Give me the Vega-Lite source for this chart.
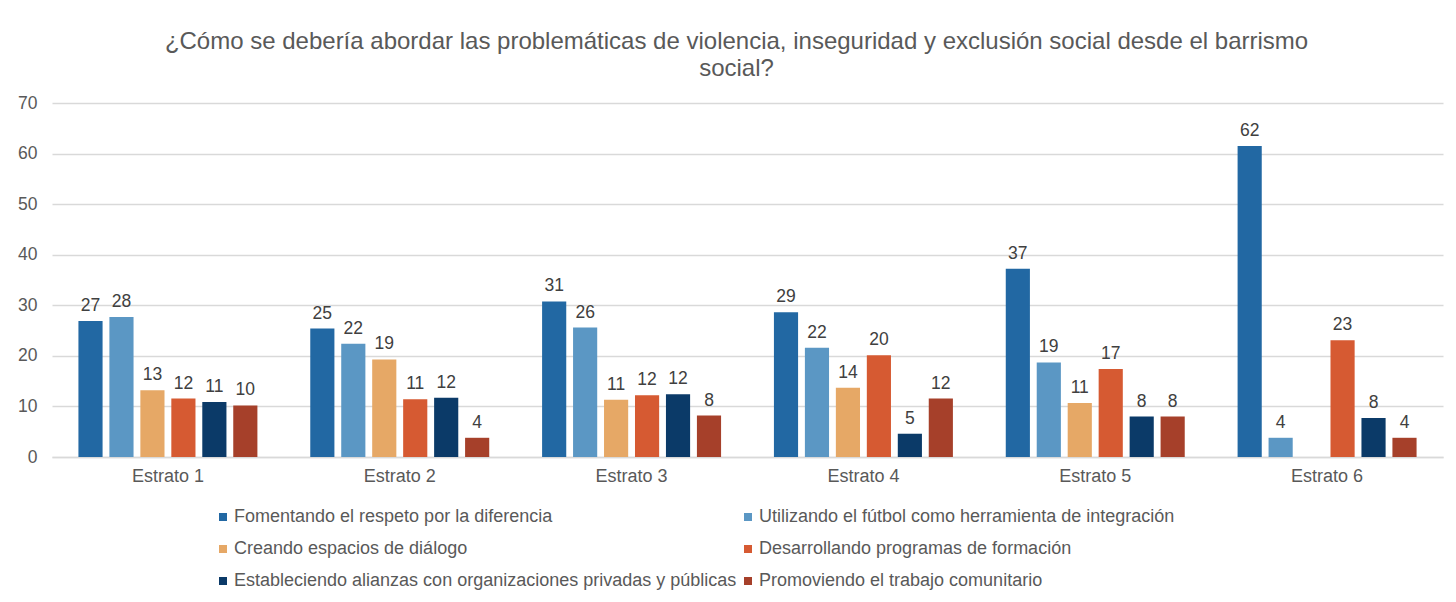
{
  "$schema": "https://vega.github.io/schema/vega-lite/v6.json",
  "width": 1391,
  "height": 354,
  "autosize": {"type": "none"},
  "padding": {"left": 52, "top": 103, "right": 13, "bottom": 145},
  "background": "white",
  "title": {
    "text": ["¿Cómo se debería abordar las problemáticas de violencia, inseguridad y exclusión social desde el barrismo", "social?"],
    "fontSize": 24,
    "font": "Liberation Sans",
    "fontWeight": "normal",
    "color": "#595959",
    "anchor": "middle",
    "dx": -11,
    "offset": 13,
    "lineHeight": 27
  },
  "config": {"view": {"stroke": null}, "font": "Liberation Sans"},
  "data": {
    "values": [
      {"estrato": "Estrato 1", "categoria": "Fomentando el respeto por la diferencia", "valor": 26.9},
      {"estrato": "Estrato 1", "categoria": "Utilizando el fútbol como herramienta de integración", "valor": 27.7},
      {"estrato": "Estrato 1", "categoria": "Creando espacios de diálogo", "valor": 13.2},
      {"estrato": "Estrato 1", "categoria": "Desarrollando programas de formación", "valor": 11.55},
      {"estrato": "Estrato 1", "categoria": "Estableciendo alianzas con organizaciones privadas y públicas", "valor": 10.9},
      {"estrato": "Estrato 1", "categoria": "Promoviendo el trabajo comunitario", "valor": 10.2},
      {"estrato": "Estrato 2", "categoria": "Fomentando el respeto por la diferencia", "valor": 25.4},
      {"estrato": "Estrato 2", "categoria": "Utilizando el fútbol como herramienta de integración", "valor": 22.4},
      {"estrato": "Estrato 2", "categoria": "Creando espacios de diálogo", "valor": 19.3},
      {"estrato": "Estrato 2", "categoria": "Desarrollando programas de formación", "valor": 11.4},
      {"estrato": "Estrato 2", "categoria": "Estableciendo alianzas con organizaciones privadas y públicas", "valor": 11.7},
      {"estrato": "Estrato 2", "categoria": "Promoviendo el trabajo comunitario", "valor": 3.8},
      {"estrato": "Estrato 3", "categoria": "Fomentando el respeto por la diferencia", "valor": 30.75},
      {"estrato": "Estrato 3", "categoria": "Utilizando el fútbol como herramienta de integración", "valor": 25.6},
      {"estrato": "Estrato 3", "categoria": "Creando espacios de diálogo", "valor": 11.3},
      {"estrato": "Estrato 3", "categoria": "Desarrollando programas de formación", "valor": 12.2},
      {"estrato": "Estrato 3", "categoria": "Estableciendo alianzas con organizaciones privadas y públicas", "valor": 12.4},
      {"estrato": "Estrato 3", "categoria": "Promoviendo el trabajo comunitario", "valor": 8.2},
      {"estrato": "Estrato 4", "categoria": "Fomentando el respeto por la diferencia", "valor": 28.6},
      {"estrato": "Estrato 4", "categoria": "Utilizando el fútbol como herramienta de integración", "valor": 21.6},
      {"estrato": "Estrato 4", "categoria": "Creando espacios de diálogo", "valor": 13.7},
      {"estrato": "Estrato 4", "categoria": "Desarrollando programas de formación", "valor": 20.1},
      {"estrato": "Estrato 4", "categoria": "Estableciendo alianzas con organizaciones privadas y públicas", "valor": 4.6},
      {"estrato": "Estrato 4", "categoria": "Promoviendo el trabajo comunitario", "valor": 11.55},
      {"estrato": "Estrato 5", "categoria": "Fomentando el respeto por la diferencia", "valor": 37.2},
      {"estrato": "Estrato 5", "categoria": "Utilizando el fútbol como herramienta de integración", "valor": 18.7},
      {"estrato": "Estrato 5", "categoria": "Creando espacios de diálogo", "valor": 10.7},
      {"estrato": "Estrato 5", "categoria": "Desarrollando programas de formación", "valor": 17.4},
      {"estrato": "Estrato 5", "categoria": "Estableciendo alianzas con organizaciones privadas y públicas", "valor": 8.0},
      {"estrato": "Estrato 5", "categoria": "Promoviendo el trabajo comunitario", "valor": 8.0},
      {"estrato": "Estrato 6", "categoria": "Fomentando el respeto por la diferencia", "valor": 61.5},
      {"estrato": "Estrato 6", "categoria": "Utilizando el fútbol como herramienta de integración", "valor": 3.8},
      {"estrato": "Estrato 6", "categoria": "Desarrollando programas de formación", "valor": 23.1},
      {"estrato": "Estrato 6", "categoria": "Estableciendo alianzas con organizaciones privadas y públicas", "valor": 7.7},
      {"estrato": "Estrato 6", "categoria": "Promoviendo el trabajo comunitario", "valor": 3.8}
    ]
  },
  "encoding": {
    "x": {
      "field": "estrato",
      "type": "nominal",
      "scale": {"paddingInner": 0.228, "paddingOuter": 0.114},
      "axis": {
        "title": null,
        "labelAngle": 0,
        "labelFontSize": 18,
        "labelColor": "#595959",
        "ticks": false,
        "domainColor": "#D9D9D9",
        "domainWidth": 1.5,
        "labelPadding": 10
      }
    },
    "xOffset": {
      "field": "categoria",
      "type": "nominal",
      "sort": [
        "Fomentando el respeto por la diferencia",
        "Utilizando el fútbol como herramienta de integración",
        "Creando espacios de diálogo",
        "Desarrollando programas de formación",
        "Estableciendo alianzas con organizaciones privadas y públicas",
        "Promoviendo el trabajo comunitario"
      ],
      "scale": {"paddingInner": 0.22, "paddingOuter": 0}
    },
    "y": {
      "field": "valor",
      "type": "quantitative",
      "scale": {"domain": [0, 70], "nice": false},
      "axis": {
        "title": null,
        "values": [0, 10, 20, 30, 40, 50, 60, 70],
        "grid": true,
        "gridColor": "#D9D9D9",
        "gridWidth": 1.5,
        "domain": false,
        "ticks": false,
        "labelPadding": 15,
        "labelFontSize": 17.5,
        "labelColor": "#595959"
      }
    }
  },
  "layer": [
    {
      "mark": {"type": "bar"},
      "encoding": {
        "color": {
          "field": "categoria",
          "type": "nominal",
          "scale": {
            "domain": [
              "Fomentando el respeto por la diferencia",
              "Creando espacios de diálogo",
              "Estableciendo alianzas con organizaciones privadas y públicas",
              "Utilizando el fútbol como herramienta de integración",
              "Desarrollando programas de formación",
              "Promoviendo el trabajo comunitario"
            ],
            "range": ["#2268A3", "#E6A866", "#0B3A68", "#5B97C4", "#D65A32", "#A6402A"]
          },
          "legend": {
            "orient": "none",
            "legendX": 162,
            "legendY": 405,
            "columns": 2,
            "title": null,
            "symbolType": "square",
            "symbolSize": 64,
            "symbolStrokeWidth": 0,
            "labelFontSize": 18,
            "labelColor": "#595959",
            "rowPadding": 14,
            "columnPadding": 2,
            "labelOffset": 2,
            "labelLimit": 0
          }
        }
      }
    },
    {
      "mark": {"type": "text", "dy": -10, "baseline": "alphabetic", "fontSize": 17.5, "color": "#404040"},
      "encoding": {"text": {"field": "valor", "type": "quantitative", "format": ".0f"}}
    }
  ]
}
